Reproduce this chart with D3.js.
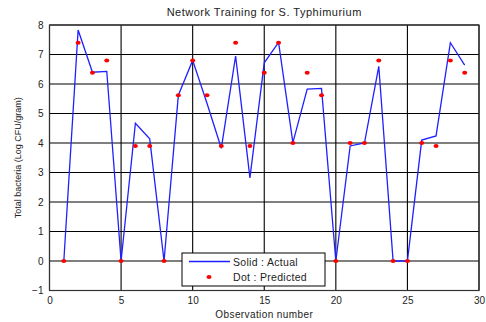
<!DOCTYPE html>
<html>
<head>
<meta charset="utf-8">
<script src="https://cdn.jsdelivr.net/npm/d3@7"></script>
<style>
  body { margin: 0; background: #fff; }
  svg { display: block; font-family: "Liberation Sans", Arial, sans-serif; }
</style>
</head>
<body>
<div id="chart"></div>
<script>
// observation numbers 1..29
const observations = d3.range(1, 30);
const actual = [0, 7.83, 6.4, 6.43, 0, 4.67, 4.14, 0, 5.62, 6.8,
  5.35, 3.82, 6.95, 2.82, 6.72, 7.41, 4.01, 5.83, 5.85, 0,
  3.9, 4.0, 6.6, 0, 0, 4.1, 4.24, 7.4, 6.64];
const predicted = [0, 7.4, 6.38, 6.8, 0, 3.9, 3.9, 0, 5.62, 6.8,
  5.62, 3.9, 7.4, 3.9, 6.38, 7.4, 4.0, 6.38, 5.62, 0,
  4.0, 4.0, 6.8, 0, 0, 4.0, 3.9, 6.8, 6.38];
const xTicks = [0, 5, 10, 15, 20, 25, 30];
const yTicks = [-1, 0, 1, 2, 3, 4, 5, 6, 7, 8];

const W = 486, H = 322;
const margin = { top: 25, right: 7, bottom: 31.5, left: 49.5 };
const width = W - margin.left - margin.right;
const height = H - margin.top - margin.bottom;

const svg = d3.select("#chart").append("svg")
  .attr("width", W).attr("height", H);

const g = svg.append("g")
  .attr("transform", "translate(" + margin.left + "," + margin.top + ")");

const x = d3.scaleLinear().domain([0, 30]).range([0, width]);
const y = d3.scaleLinear().domain([-1, 8]).range([height, 0]);

// grid
g.append("g")
  .selectAll("line")
  .data(xTicks)
  .enter().append("line")
  .attr("x1", d => x(d)).attr("x2", d => x(d))
  .attr("y1", 0).attr("y2", height)
  .attr("stroke", "#000").attr("stroke-width", 1.1);

g.append("g")
  .selectAll("line")
  .data(yTicks)
  .enter().append("line")
  .attr("x1", 0).attr("x2", width)
  .attr("y1", d => y(d)).attr("y2", d => y(d))
  .attr("stroke", "#000").attr("stroke-width", 1.1);

// frame
g.append("rect")
  .attr("x", 0).attr("y", 0)
  .attr("width", width).attr("height", height)
  .attr("fill", "none").attr("stroke", "#333").attr("stroke-width", 1.2);

// axes
const xAxis = g.append("g")
  .attr("transform", "translate(0," + height + ")")
  .call(d3.axisBottom(x).tickValues(xTicks).tickSize(0).tickPadding(6));
const yAxis = g.append("g")
  .call(d3.axisLeft(y).tickValues(yTicks).tickSize(0).tickPadding(6));
[xAxis, yAxis].forEach(a => {
  a.select(".domain").remove();
  a.selectAll("text")
    .attr("font-family", "Liberation Sans, Arial, sans-serif")
    .attr("font-size", 10).attr("fill", "#222");
});

// actual line
const line = d3.line()
  .x((d, i) => x(observations[i]))
  .y(d => y(d));

g.append("path")
  .datum(actual)
  .attr("d", line)
  .attr("fill", "none")
  .attr("stroke", "#1f1fff")
  .attr("stroke-width", 1.3);

// predicted dots
g.append("g")
  .selectAll("ellipse")
  .data(predicted)
  .enter().append("ellipse")
  .attr("cx", (d, i) => x(observations[i]))
  .attr("cy", d => y(d))
  .attr("rx", 2.5).attr("ry", 2)
  .attr("fill", "#ff0000");

// title and labels
svg.append("text")
  .attr("x", margin.left + width / 2).attr("y", 16)
  .attr("text-anchor", "middle")
  .attr("font-size", 11).attr("fill", "#222")
  .attr("letter-spacing", 0.5)
  .text("Network Training for S. Typhimurium");

svg.append("text")
  .attr("x", margin.left + width / 2).attr("y", 318)
  .attr("text-anchor", "middle")
  .attr("font-size", 10).attr("fill", "#222")
  .attr("letter-spacing", 0.4)
  .text("Observation number");

svg.append("text")
  .attr("transform", "translate(21," + (margin.top + y(3.5)) + ") rotate(-90)")
  .attr("text-anchor", "middle")
  .attr("font-size", 9).attr("fill", "#222")
  .text("Total bacteria (Log CFU/gram)");

// legend
const leg = svg.append("g").attr("transform", "translate(182,253)");
leg.append("rect")
  .attr("width", 143).attr("height", 33)
  .attr("fill", "#fff").attr("stroke", "#000").attr("stroke-width", 1);
leg.append("line")
  .attr("x1", 7).attr("x2", 48).attr("y1", 8.5).attr("y2", 8.5)
  .attr("stroke", "#1f1fff").attr("stroke-width", 1.3);
leg.append("ellipse")
  .attr("cx", 27).attr("cy", 24).attr("rx", 2.5).attr("ry", 2)
  .attr("fill", "#ff0000");
leg.append("text")
  .attr("x", 51).attr("y", 12.5)
  .attr("font-size", 10.5).attr("fill", "#222").attr("letter-spacing", 0.3)
  .text("Solid : Actual");
leg.append("text")
  .attr("x", 51).attr("y", 28)
  .attr("font-size", 10.5).attr("fill", "#222").attr("letter-spacing", 0.3)
  .text("Dot : Predicted");
</script>
</body>
</html>
